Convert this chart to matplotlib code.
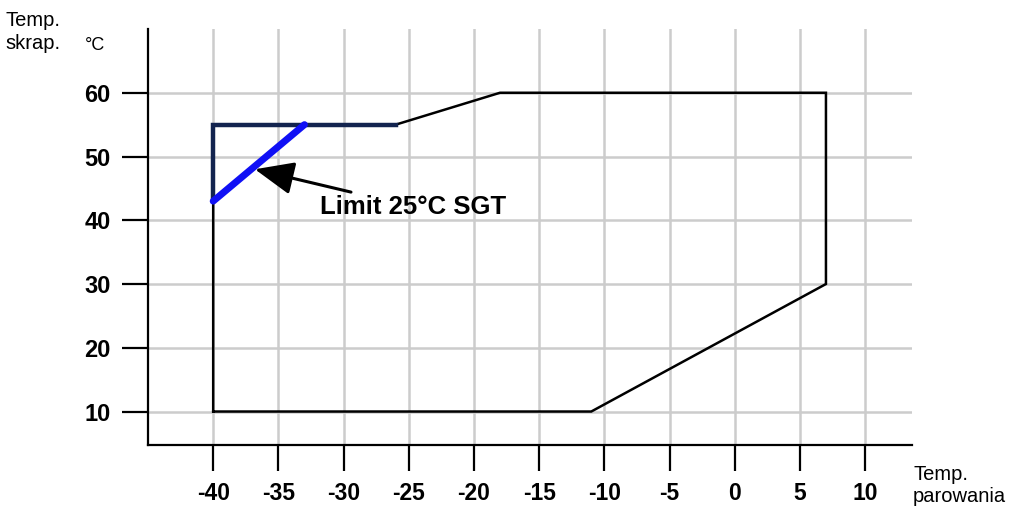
import matplotlib.pyplot as plt

# envelope of the working range (evaporating temp, condensing temp)
envelope_x = [-40, -11, 7, 7, -18, -26, -40, -40]
envelope_y = [10, 10, 30, 60, 60, 55, 55, 10]

# dark segment on top-left corner
corner_x = [-26, -40, -40]
corner_y = [55, 55, 43]

# limit line 25C SGT
limit_x = [-40, -33]
limit_y = [43, 55]

x_ticks = [-40, -35, -30, -25, -20, -15, -10, -5, 0, 5, 10]
y_ticks = [10, 20, 30, 40, 50, 60]

plt.rcParams['font.family'] = ['Liberation Sans', 'DejaVu Sans']

fig = plt.figure(figsize=(10.11, 5.08), dpi=100)
ax = fig.add_axes([148 / 1011, 1 - 445 / 508, (912 - 148) / 1011, (445 - 29) / 508])

ax.set_xlim(-45, 13.6)
ax.set_ylim(4.75, 70)

ax.grid(True, color='#cccccc', linewidth=1.8)
ax.set_axisbelow(True)

ax.plot(envelope_x, envelope_y, color='black', linewidth=1.8, solid_joinstyle='miter')
ax.plot(corner_x, corner_y, color='#13244f', linewidth=3.2, solid_joinstyle='miter')
ax.plot(limit_x, limit_y, color='#1010f5', linewidth=5, solid_capstyle='round')

ax.annotate('Limit 25°C SGT', xy=(-36.8, 48.0), xytext=(-31.8, 42.1),
            fontsize=18.5, fontweight='bold', va='center', ha='left',
            arrowprops=dict(arrowstyle='-|>,head_length=1.3,head_width=0.55',
                            color='black', lw=2.2, shrinkA=0, shrinkB=0))

ax.set_xticks(x_ticks)
ax.set_yticks(y_ticks)
ax.set_xticklabels([str(v) for v in x_ticks], fontweight='bold', fontsize=16.5)
ax.set_yticklabels([str(v) for v in y_ticks], fontweight='bold', fontsize=17)
ax.tick_params(axis='x', length=19, width=1.6, pad=8, direction='out')
ax.tick_params(axis='y', length=19, width=1.6, pad=8, direction='out')

for s in ['top', 'right']:
    ax.spines[s].set_visible(False)
for s in ['left', 'bottom']:
    ax.spines[s].set_linewidth(1.6)

fig.text(5 / 1011, 1 - 32 / 508, 'Temp.\nskrap.', fontsize=14.5, va='center', ha='left',
         linespacing=1.3)
fig.text(85 / 1011, 1 - 45 / 508, '°C', fontsize=13, va='center', ha='left')
fig.text(913 / 1011, 1 - 486 / 508, 'Temp.\nparowania', fontsize=14.5, va='center', ha='left',
         linespacing=1.2)

fig.savefig('out.png', dpi=100)
